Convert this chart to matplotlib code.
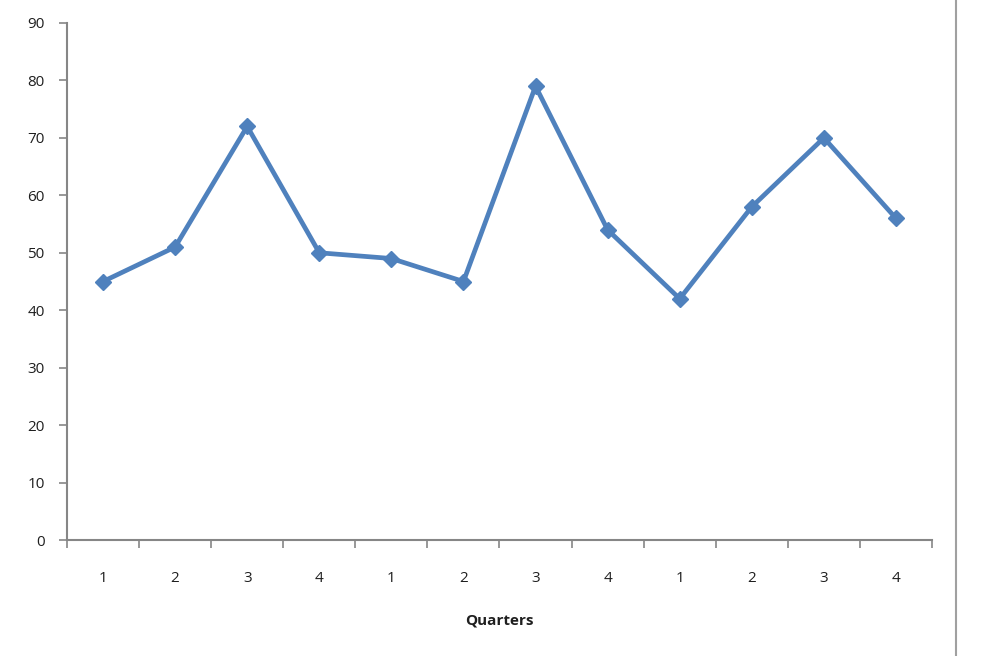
import matplotlib
matplotlib.use("Agg")
import matplotlib.pyplot as plt
from matplotlib.lines import Line2D

quarters = ["1", "2", "3", "4", "1", "2", "3", "4", "1", "2", "3", "4"]
values = [45, 51, 72, 50, 49, 45, 79, 54, 42, 58, 70, 56]
y_ticks = [0, 10, 20, 30, 40, 50, 60, 70, 80, 90]

plt.rcParams['font.family'] = ['Open Sans', 'DejaVu Sans']

fig = plt.figure(figsize=(9.94, 6.56), dpi=100)
ax = fig.add_axes([67/994, 1-540/656, (932-67)/994, (540-23)/656])

blue = "#4F81BD"
gray = "#868686"
txt = "#1F1F1F"
x = list(range(len(values)))
ax.plot(x, values, color=blue, linewidth=3.4, marker="D", markersize=8,
        markerfacecolor=blue, markeredgecolor=blue, solid_joinstyle="round")

ax.set_xlim(-0.5, len(values) - 0.5)
ax.set_ylim(0, 90)
ax.set_yticks(y_ticks)
ax.set_yticklabels([str(t) for t in y_ticks], fontsize=11, color=txt)

ax.set_xticks(x)
ax.set_xticklabels(quarters, fontsize=11, color=txt)
ax.tick_params(axis="x", which="major", length=0, pad=22)
ax.set_xticks([i - 0.5 for i in range(len(values) + 1)], minor=True)
ax.tick_params(axis="x", which="minor", length=6, direction="out", color=gray, width=1.2)
ax.tick_params(axis="y", length=6, direction="out", color=gray, width=1.2, pad=10)

for s in ["top", "right"]:
    ax.spines[s].set_visible(False)
for s in ["left", "bottom"]:
    ax.spines[s].set_color(gray)
    ax.spines[s].set_linewidth(1.5)

ax.set_xlabel("Quarters", fontsize=11, fontweight="bold", color=txt, labelpad=20)
fig.text(-0.012, 0.56, "Sales (units)", rotation=90, fontsize=11, fontweight="bold",
         color=blue, ha="center", va="center")

fig.add_artist(Line2D([956/994, 956/994], [0, 1], color="#A0A0A0", linewidth=1.5,
                      transform=fig.transFigure))

fig.savefig("out.png", dpi=100)
